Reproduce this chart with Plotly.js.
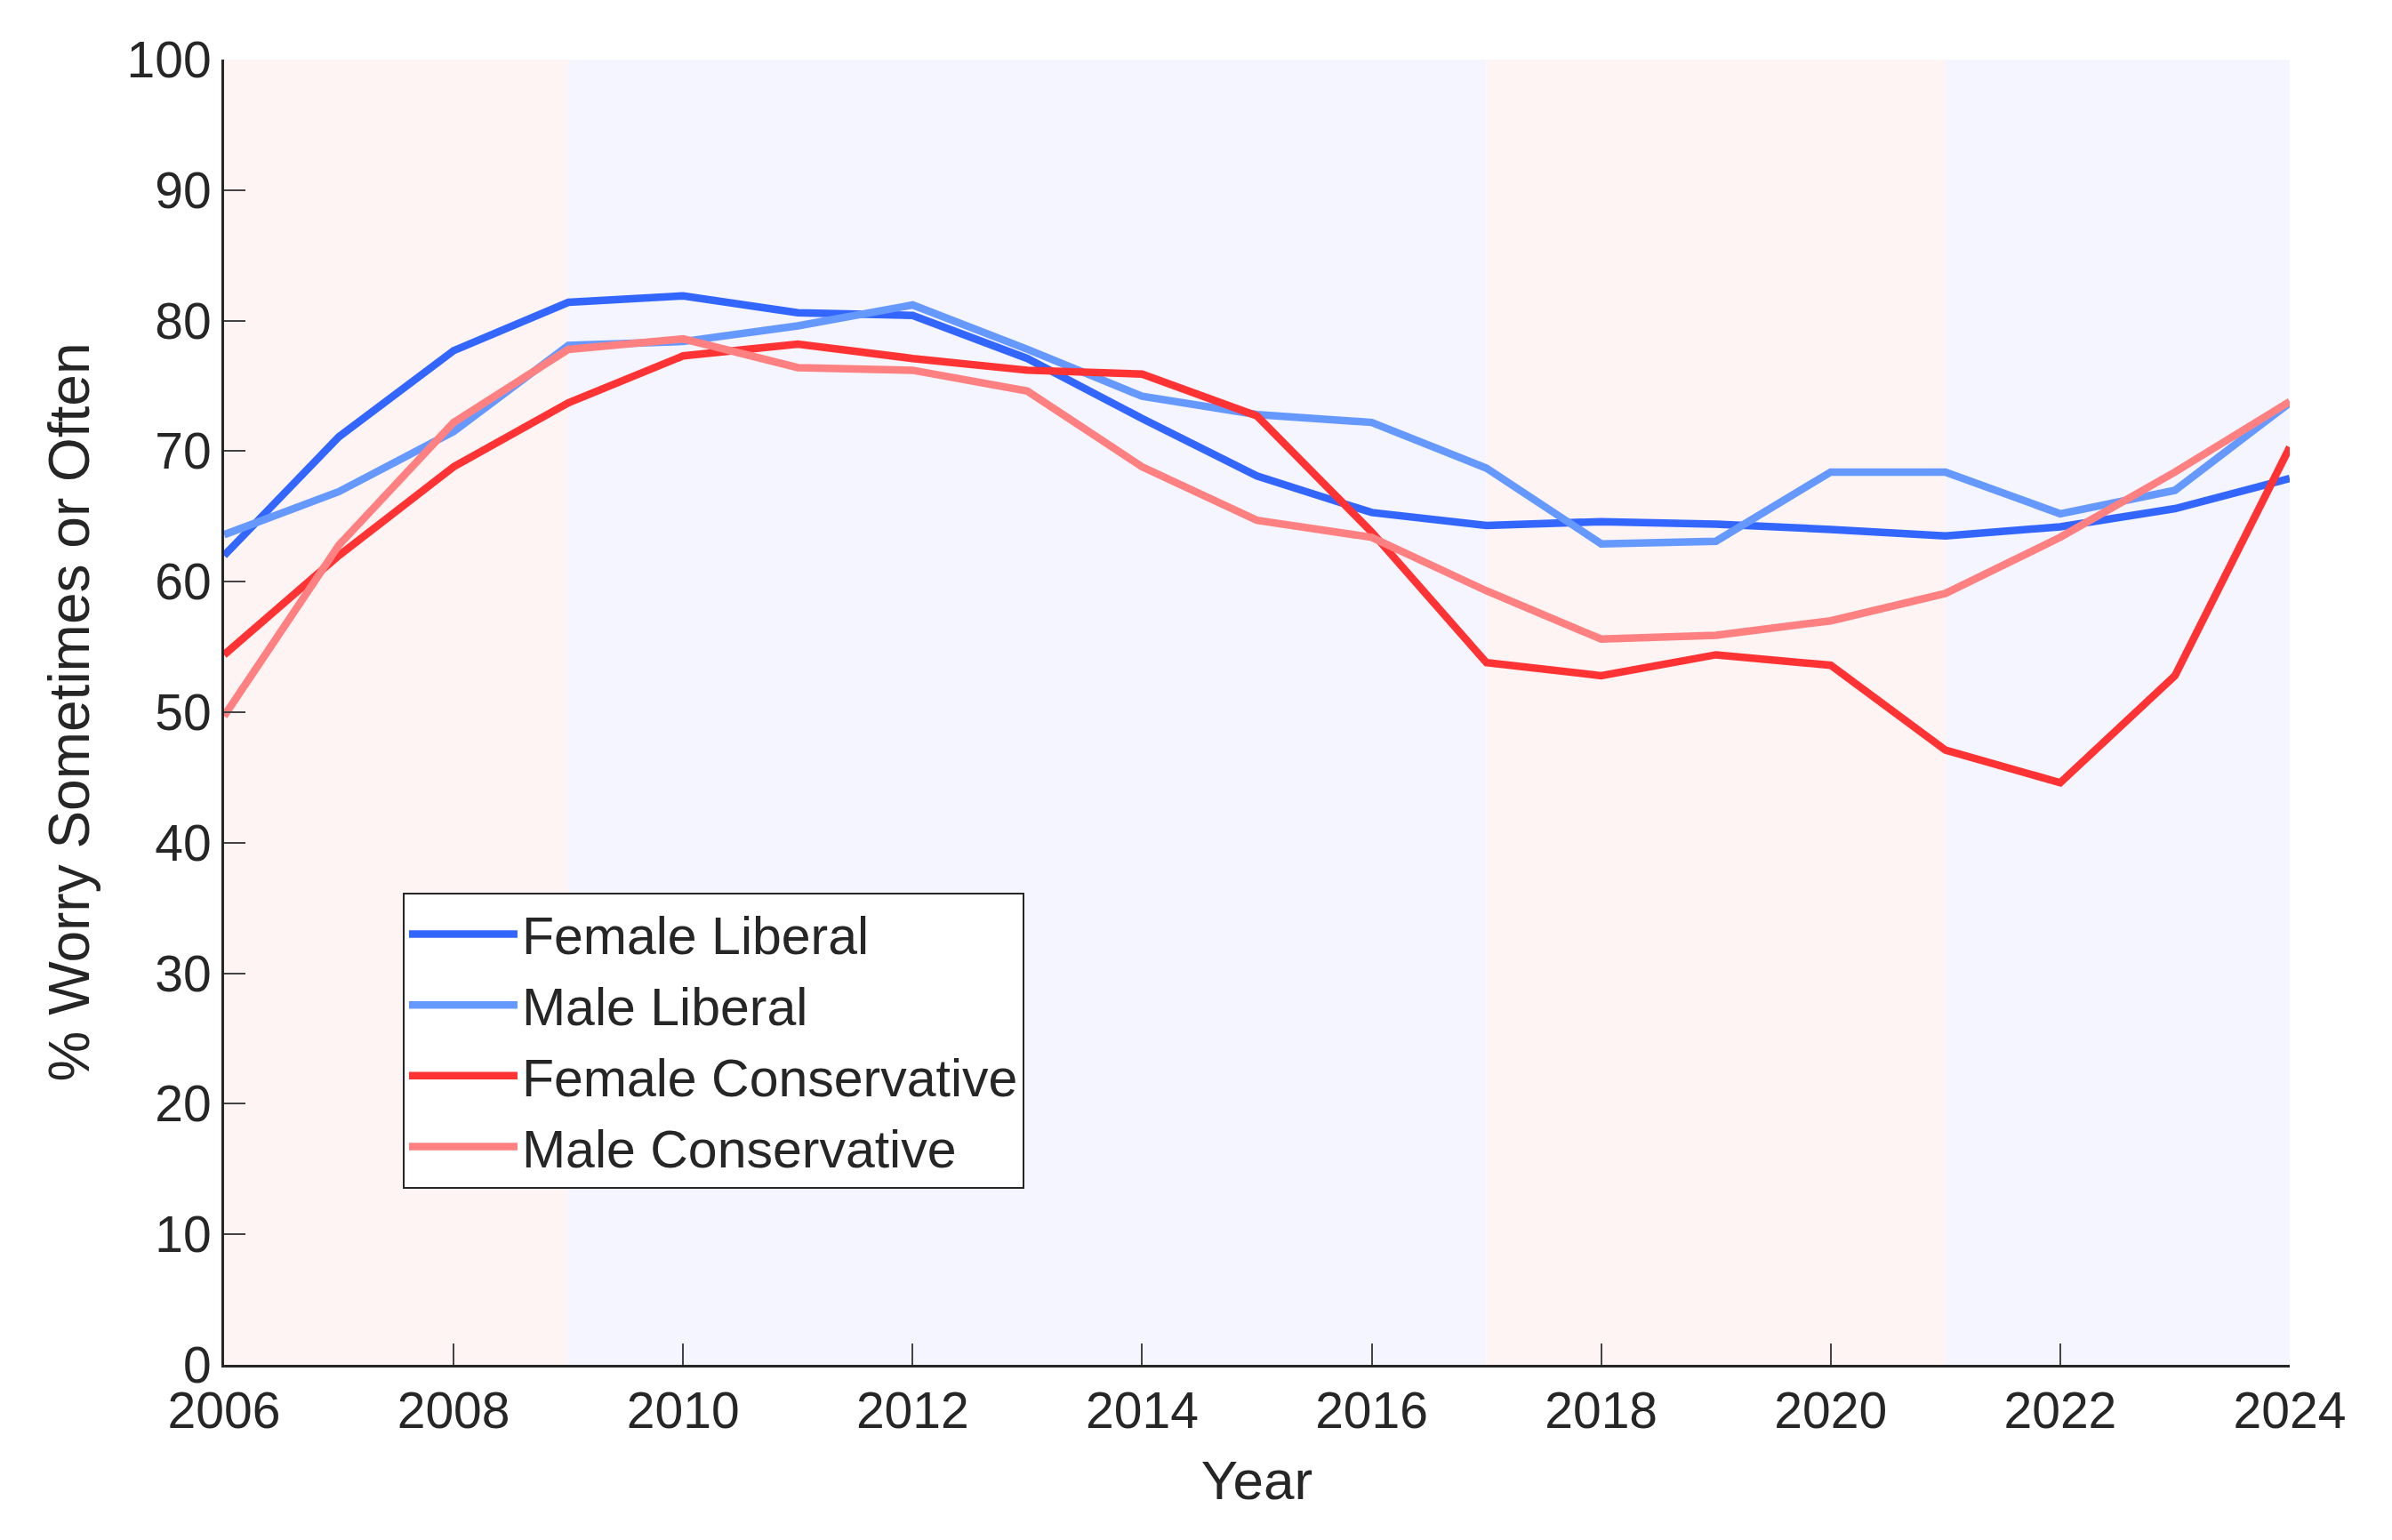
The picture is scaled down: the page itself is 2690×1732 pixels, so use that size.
<!DOCTYPE html>
<html>
<head>
<meta charset="utf-8">
<script src="https://cdn.plot.ly/plotly-3.0.1.min.js"></script>
<style>html,body{margin:0;padding:0;background:#fff;}#chart{width:2690px;height:1732px;}</style>
</head>
<body>
<div id="chart"></div>
<script>
const years = [2006,2007,2008,2009,2010,2011,2012,2013,2014,2015,2016,2017,2018,2019,2020,2021,2022,2023,2024];
const femaleLiberal      = [62.0,71.1,77.7,81.4,81.9,80.6,80.4,77.1,72.5,68.1,65.3,64.3,64.6,64.4,64.0,63.5,64.2,65.6,67.9];
const maleLiberal        = [63.6,66.9,71.5,78.1,78.4,79.6,81.2,77.8,74.2,72.8,72.2,68.7,62.9,63.1,68.4,68.4,65.2,67.0,73.7];
const femaleConservative = [54.4,62.0,68.8,73.7,77.3,78.2,77.1,76.2,75.9,72.7,63.8,53.8,52.8,54.4,53.6,47.1,44.6,52.8,70.3];
const maleConservative   = [49.7,62.8,72.2,77.8,78.6,76.4,76.2,74.6,68.8,64.7,63.4,59.3,55.6,55.9,57.0,59.1,63.4,68.4,73.8];

const seriesNames  = ['Female Liberal','Male Liberal','Female Conservative','Male Conservative'];
const seriesColors = ['#3366FF','#6699FF','#FF3333','#FF8080'];
const seriesValues = [femaleLiberal, maleLiberal, femaleConservative, maleConservative];

// background periods (party in office)
const periodStart = [2006, 2009, 2017, 2021];
const periodEnd   = [2009, 2017, 2021, 2024];
const periodParty = ['R','D','R','D'];
const partyFill = {R:'#FEF4F4', D:'#F4F5FE'};

const yTicks = [0,10,20,30,40,50,60,70,80,90,100];
const xTicks = [2006,2008,2010,2012,2014,2016,2018,2020,2022,2024];

const traces = seriesNames.map((n,i)=>({
  x: years, y: seriesValues[i], type:'scatter', mode:'lines', name:n,
  line:{color:seriesColors[i], width:8.5}
}));

const shapes = periodStart.map((s,i)=>({
  type:'rect', xref:'x', yref:'paper', x0:s, x1:periodEnd[i], y0:0, y1:1,
  fillcolor:partyFill[periodParty[i]], line:{width:0}, layer:'below'
}));

const fontFam = '"Liberation Sans", Arial, Helvetica, sans-serif';
const txt = '#262626';

const layout = {
  width:2690, height:1732,
  margin:{l:252, r:115, t:67, b:197},
  paper_bgcolor:'#ffffff', plot_bgcolor:'#ffffff',
  font:{family:fontFam, size:57, color:txt},
  showlegend:true,
  legend:{x:0.0865, y:0.362, xanchor:'left', yanchor:'top',
    bgcolor:'#ffffff', bordercolor:txt, borderwidth:2,
    font:{family:fontFam, size:59, color:txt}, itemwidth:122},
  xaxis:{range:[2006,2024], tickvals:xTicks, ticktext:xTicks.map(String),
    ticks:'inside', ticklen:24, tickwidth:2, tickcolor:'#444',
    showline:true, linecolor:txt, linewidth:3, mirror:false, showgrid:false, zeroline:false,
    tickfont:{family:fontFam, size:57, color:txt},
    title:{text:'Year', font:{family:fontFam, size:62, color:txt}, standoff:26}},
  yaxis:{range:[0,100], tickvals:yTicks, ticktext:yTicks.map(String),
    ticks:'inside', ticklen:24, tickwidth:2, tickcolor:'#444',
    showline:true, linecolor:txt, linewidth:3, mirror:false, showgrid:false, zeroline:false,
    tickfont:{family:fontFam, size:57, color:txt},
    title:{text:'% Worry Sometimes or Often', font:{family:fontFam, size:64, color:txt}, standoff:22}},
  shapes: shapes
};

Plotly.newPlot('chart', traces, layout, {displayModeBar:false, staticPlot:true});
</script>
</body>
</html>
